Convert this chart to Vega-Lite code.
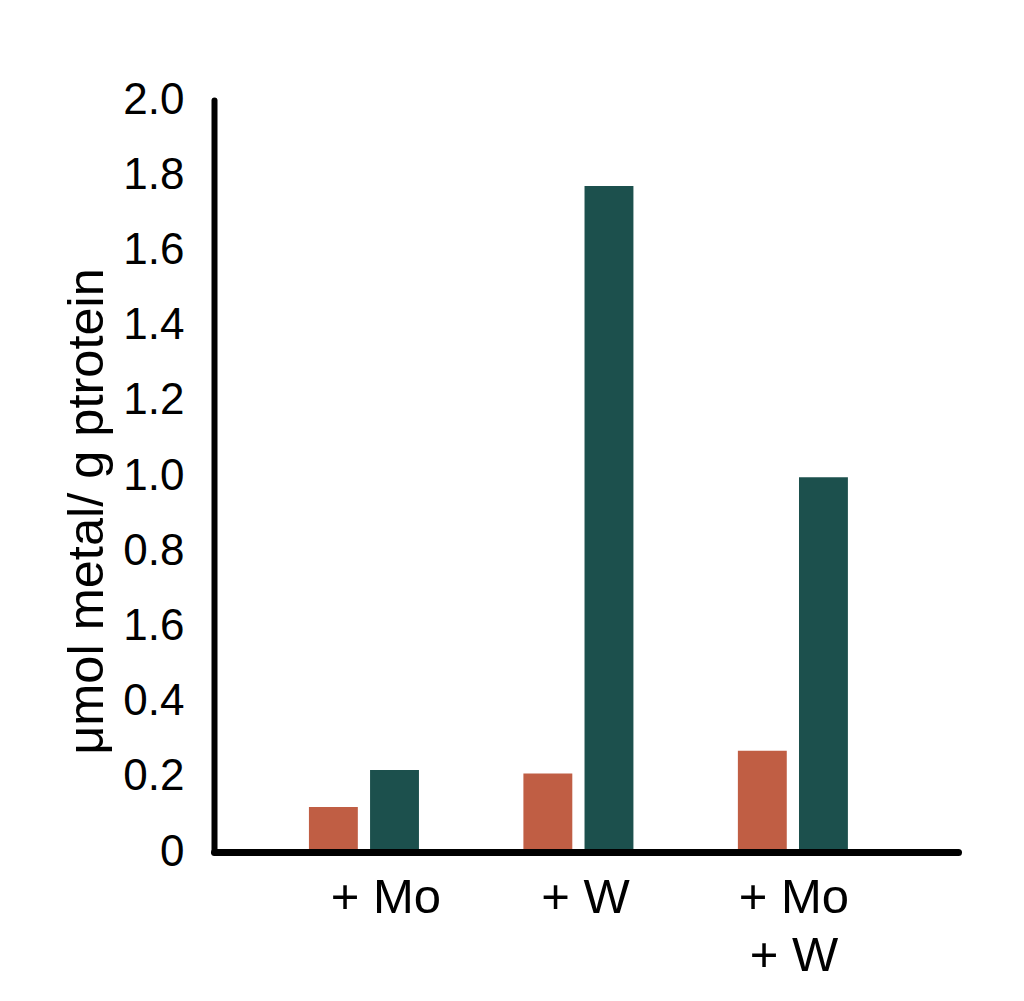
{
  "$schema": "https://vega.github.io/schema/vega-lite/v6.json",
  "width": 744,
  "height": 752,
  "autosize": {"type": "none"},
  "padding": {"left": 214, "top": 100, "right": 66, "bottom": 149},
  "background": "white",
  "data": {
    "values": [
      {"treatment": "+ Mo", "series": "Series 1", "value": 0.120},
      {"treatment": "+ Mo", "series": "Series 2", "value": 0.218},
      {"treatment": "+ W", "series": "Series 1", "value": 0.209},
      {"treatment": "+ W", "series": "Series 2", "value": 1.771},
      {"treatment": "+ Mo|+ W", "series": "Series 1", "value": 0.269},
      {"treatment": "+ Mo|+ W", "series": "Series 2", "value": 0.997}
    ]
  },
  "mark": {"type": "bar"},
  "encoding": {
    "x": {
      "field": "treatment",
      "type": "nominal",
      "sort": null,
      "scale": {"paddingInner": 0.487, "paddingOuter": 0.478, "align": 0.463},
      "axis": {
        "title": null,
        "labelExpr": "split(datum.label, '|')",
        "labelAngle": 0,
        "labelFont": "Liberation Sans",
        "labelFontSize": 49,
        "labelColor": "black",
        "labelLineHeight": 58,
        "labelPadding": 21,
        "labelOffset": {"condition": [{"test": "datum.value == '+ Mo'", "value": 22}, {"test": "datum.value == '+ W'", "value": 7}], "value": 1},
        "ticks": false,
        "tickSize": 0,
        "domainColor": "black",
        "domainWidth": 7,
        "domainCap": "round",
        "zindex": 1
      }
    },
    "xOffset": {
      "field": "series",
      "type": "nominal",
      "scale": {"paddingInner": 0.2, "paddingOuter": 0}
    },
    "y": {
      "field": "value",
      "type": "quantitative",
      "scale": {"domain": [0, 2], "nice": false},
      "axis": {
        "values": [0, 0.2, 0.4, 0.6, 0.8, 1.0, 1.2, 1.4, 1.6, 1.8, 2.0],
        "labelExpr": "datum.value == 0 ? '0' : (abs(datum.value - 0.6) < 0.01 ? '1.6' : format(datum.value, '.1f'))",
        "labelFont": "Liberation Sans",
        "labelFontSize": 44,
        "labelColor": "black",
        "labelPadding": 30,
        "ticks": false,
        "tickSize": 0,
        "grid": false,
        "domainColor": "black",
        "domainWidth": 6,
        "domainCap": "round",
        "title": "μmol metal/ g ptrotein",
        "titleFont": "Liberation Sans",
        "titleFontSize": 50.5,
        "titleFontWeight": "normal",
        "titleColor": "black",
        "titleAngle": 270,
        "titleAlign": "center",
        "titleBaseline": "alphabetic",
        "titleX": -112,
        "titleY": 411,
        "zindex": 1
      }
    },
    "color": {
      "field": "series",
      "type": "nominal",
      "scale": {"domain": ["Series 1", "Series 2"], "range": ["#C05E44", "#1C504D"]},
      "legend": null
    }
  },
  "config": {"view": {"stroke": null}}
}
